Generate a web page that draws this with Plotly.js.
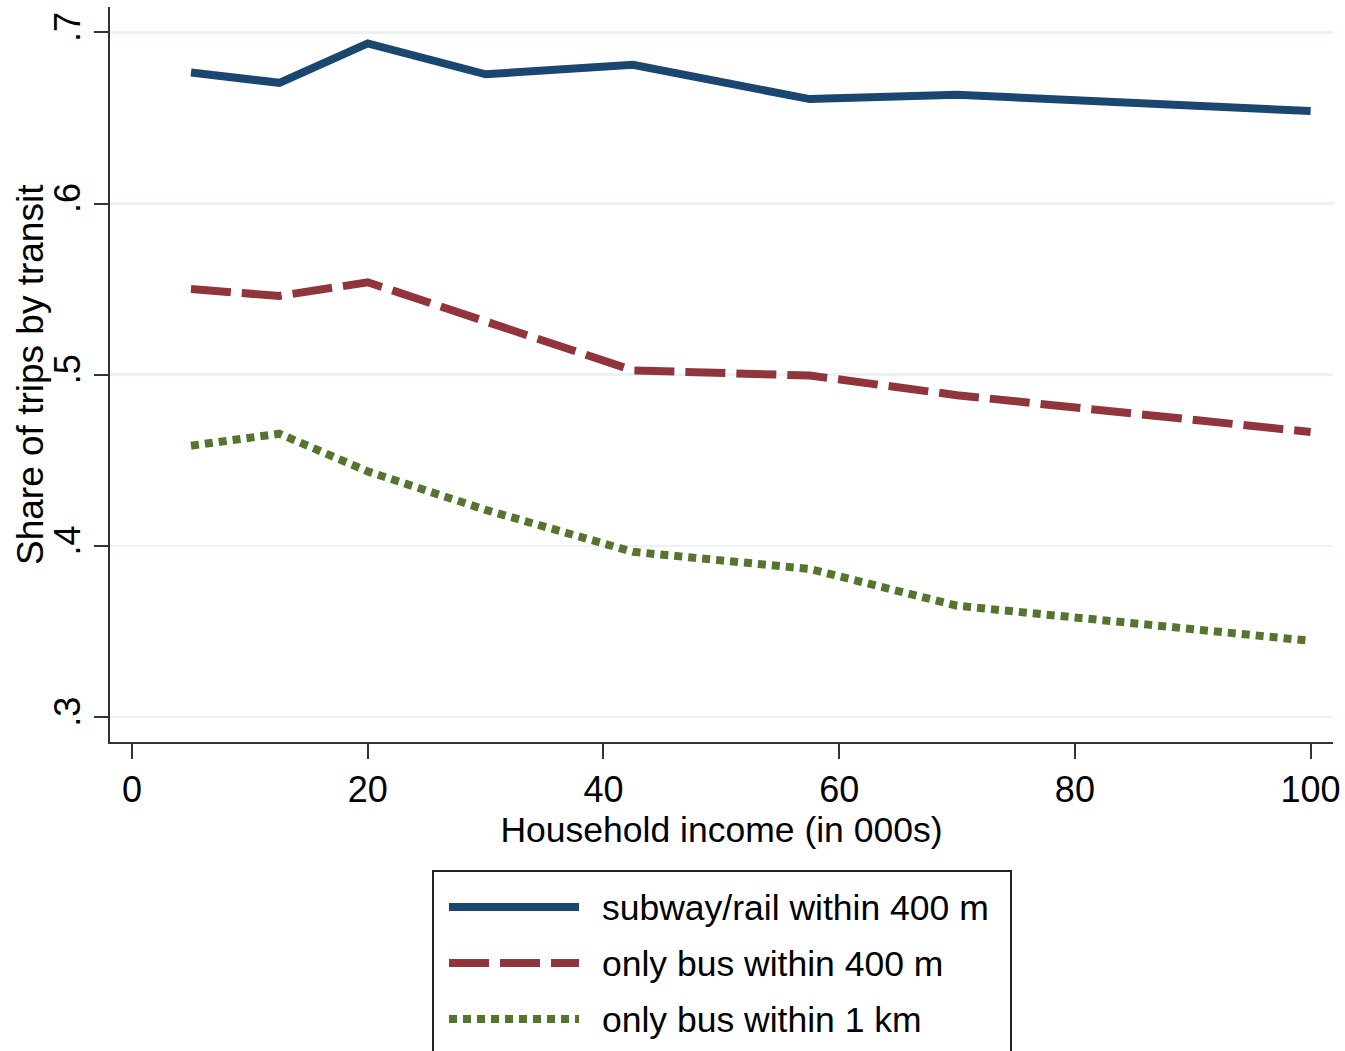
<!DOCTYPE html>
<html>
<head>
<meta charset="utf-8">
<script src="https://cdn.plot.ly/plotly-3.0.1.min.js"></script>
<style>
  html, body { margin: 0; padding: 0; background: #ffffff; }
  #chart { width: 1345px; height: 1051px; }
</style>
</head>
<body>
<div id="chart"></div>
<script>
// Household income bins (thousands of dollars)
const income = [5, 12.5, 20, 30, 42.5, 57.5, 70, 100];

// Share of trips made by transit, by access type
const subwayRail400 = [0.6765, 0.6705, 0.6935, 0.6755, 0.681, 0.661, 0.6635, 0.654];
const onlyBus400    = [0.550, 0.546, 0.554, 0.531, 0.5025, 0.4995, 0.488, 0.4665];
const onlyBus1km    = [0.4585, 0.4655, 0.4435, 0.421, 0.3965, 0.3865, 0.365, 0.3445];

const seriesNames = ["subway/rail within 400 m", "only bus within 400 m", "only bus within 1 km"];

const xTickVals = [0, 20, 40, 60, 80, 100];
const xTickText = ["0", "20", "40", "60", "80", "100"];
const yTickVals = [0.3, 0.4, 0.5, 0.6, 0.7];
const yTickText = [".3", ".4", ".5", ".6", ".7"];

const xTitle = "Household income (in 000s)";
const yTitle = "Share of trips by transit";

// styling
const FONT = "'Liberation Sans', Arial, sans-serif";
const colors = ["#1a476f", "#90353b", "#55752f"];
const dashes = ["solid", "40px,11px", "8px,6px"];
const LW = 8;

// plot frame in page pixels
const W = 1345, H = 1051;
const M = { l: 110, r: 12, t: 7, b: 309 };
const plotW = W - M.l - M.r, plotH = H - M.t - M.b;
const px = x => (x - M.l) / plotW;            // page x -> paper x
const py = y => (H - M.b - y) / plotH;        // page y -> paper y

const seriesValues = [subwayRail400, onlyBus400, onlyBus1km];
const traces = seriesValues.map((vals, i) => ({
  type: "scatter",
  mode: "lines",
  x: income,
  y: vals,
  name: seriesNames[i],
  line: { color: colors[i], width: LW, dash: dashes[i] },
  showlegend: false,
  hoverinfo: "x+y+name"
}));

// hand-built legend box below the plot
const legendRows = [907, 963, 1019];
const shapes = [{
  type: "rect", xref: "paper", yref: "paper",
  x0: px(433), x1: px(1011), y0: py(871), y1: py(1075),
  line: { color: "#222222", width: 2 }, fillcolor: "rgba(0,0,0,0)"
}];
const annotations = [];
seriesNames.forEach((name, i) => {
  shapes.push({
    type: "line", xref: "paper", yref: "paper",
    x0: px(449), x1: px(579), y0: py(legendRows[i]), y1: py(legendRows[i]),
    line: { color: colors[i], width: LW, dash: dashes[i] }
  });
  annotations.push({
    xref: "paper", yref: "paper",
    x: px(600), y: py(legendRows[i] + 1),
    xanchor: "left", yanchor: "middle",
    text: name, showarrow: false,
    font: { family: FONT, size: 35.5, color: "#000000" }
  });
});

// vertical axis title
annotations.push({
  xref: "paper", yref: "paper",
  x: px(31), y: py(375),
  xanchor: "center", yanchor: "middle",
  textangle: -90,
  text: yTitle, showarrow: false,
  font: { family: FONT, size: 37, color: "#000000" }
});

const layout = {
  width: W, height: H,
  margin: M,
  paper_bgcolor: "#ffffff",
  plot_bgcolor: "#ffffff",
  showlegend: false,
  font: { family: FONT, color: "#000000" },
  xaxis: {
    range: [-1.87, 101.9],
    tickmode: "array", tickvals: xTickVals, ticktext: xTickText,
    ticks: "outside", ticklen: 15, tickwidth: 2, tickcolor: "#333333",
    showline: true, linecolor: "#333333", linewidth: 2,
    showgrid: false, zeroline: false,
    tickfont: { family: FONT, size: 36, color: "#000000" },
    title: { text: xTitle, font: { family: FONT, size: 35.5, color: "#000000" }, standoff: 4 },
    automargin: false
  },
  yaxis: {
    range: [0.2854, 0.7148],
    tickmode: "array", tickvals: yTickVals, ticktext: yTickText,
    tickangle: -90,
    ticks: "outside", ticklen: 14, tickwidth: 2, tickcolor: "#333333",
    showline: true, linecolor: "#333333", linewidth: 2,
    showgrid: true, gridcolor: "#eaf2f3", gridwidth: 2.5,
    zeroline: false,
    tickfont: { family: FONT, size: 36, color: "#000000" },
    automargin: false
  },
  shapes: shapes,
  annotations: annotations
};

Plotly.newPlot("chart", traces, layout, { displayModeBar: false, staticPlot: true });
</script>
</body>
</html>
